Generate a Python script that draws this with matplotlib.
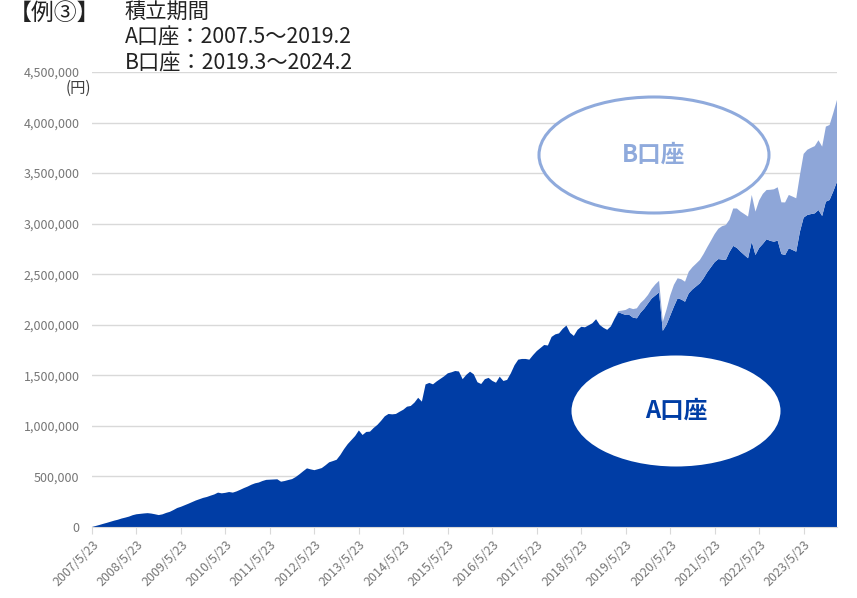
import matplotlib.pyplot as plt
import pandas as pd
from matplotlib.patches import Ellipse

plt.rcParams['font.family'] = ['Noto Sans CJK JP', 'DejaVu Sans']

### DATA (千円, 毎月23日) ###
start_date = "2007-05-23"

# A口座 評価額 2007/5 - 2024/2
a_values = [
    0, 10, 20, 31, 41, 52, 63, 72, 84, 93, 103, 117,
    126, 130, 134, 137, 133, 126, 118, 125, 139, 150, 168, 188,
    200, 215, 230, 246, 262, 275, 288, 297, 310, 322, 340, 333,
    338, 346, 340, 352, 368, 385, 400, 418, 432, 440, 455, 466,
    468, 470, 472, 448, 455, 465, 474, 495, 522, 552, 580, 570,
    562, 572, 583, 610, 640, 652, 665, 712, 770, 820, 860, 900,
    955, 910, 940, 943, 980, 1010, 1050, 1095, 1118, 1114, 1118, 1140,
    1160, 1190, 1197, 1230, 1278, 1240, 1410, 1425, 1411, 1440, 1465, 1490,
    1520, 1530, 1543, 1538, 1462, 1505, 1536, 1510, 1432, 1414, 1462, 1475,
    1445, 1427, 1487, 1444, 1455, 1520, 1600, 1655, 1662, 1662, 1655, 1700,
    1740, 1770, 1800, 1795, 1880, 1905, 1915, 1960, 1992, 1920, 1890, 1950,
    1980, 1975, 1995, 2015, 2055, 1998, 1970, 1950, 1985, 2060, 2125, 2110,
    2097, 2097, 2070, 2064, 2120, 2160, 2210, 2260, 2290, 2320, 1940, 2000,
    2090, 2180, 2262, 2250, 2228, 2311, 2350, 2380, 2410, 2460, 2520, 2570,
    2620, 2650, 2645, 2641, 2720, 2780, 2760, 2723, 2690, 2658, 2822, 2690,
    2760, 2800, 2846, 2830, 2822, 2832, 2700, 2690, 2757, 2740, 2723, 2921,
    3060, 3086, 3095, 3102, 3135, 3076, 3218, 3234, 3320, 3415,
]

# B口座 評価額 2019/3 - 2024/2
b_values = [
    10, 30, 50, 70, 85, 99, 95, 90, 85, 95, 110, 115,
    90, 150, 200, 215, 198, 200, 198, 214, 220, 225, 231, 240,
    248, 262, 278, 300, 330, 346, 320, 370, 390, 396, 405, 412,
    462, 429, 470, 495, 487, 505, 518, 528, 511, 520, 527, 528,
    528, 560, 630, 645, 655, 665, 690, 686, 742, 742, 775, 809,
]

title_left = "【例③】"
title_right = "積立期間\nA口座：2007.5〜2019.2\nB口座：2019.3〜2024.2"

dark_blue = "#003DA5"
light_blue = "#8EA6D8"
grid_gray = "#D9D9D9"
text_gray = "#767676"

# 日付と積み上げ用の配列
dates = pd.date_range(start_date, periods=len(a_values), freq=pd.DateOffset(months=1))
x = list(range(len(a_values)))
a_yen = [v * 1000 for v in a_values]
b_yen = [0] * (len(a_values) - len(b_values)) + [v * 1000 for v in b_values]

### PLOT ###
fig = plt.figure(figsize=(8.57, 5.98), dpi=100)
ax = fig.add_axes([92 / 857, 1 - 527 / 598, (837 - 92) / 857, (527 - 72) / 598])

ax.stackplot(x, a_yen, b_yen, colors=[dark_blue, light_blue], linewidth=0, zorder=2)

ax.set_xlim(0, len(a_values) - 1)
ax.set_ylim(0, 4500000)

# y軸
ax.set_yticks(range(0, 4500001, 500000))
ax.set_yticklabels([f"{v:,}" for v in range(0, 4500001, 500000)])
ax.yaxis.grid(True, color=grid_gray, linewidth=1, zorder=0)
ax.tick_params(axis="y", length=0, pad=9, labelsize=9, labelcolor=text_gray)

# x軸 (毎年5/23)
tick_idx = [i for i, d in enumerate(dates) if d.month == 5]
ax.set_xticks(tick_idx)
ax.set_xticklabels([f"{dates[i].year}/{dates[i].month}/{dates[i].day}" for i in tick_idx],
                   rotation=45, ha="right", rotation_mode="anchor")
ax.tick_params(axis="x", length=5, color=grid_gray, labelsize=9, labelcolor=text_gray, pad=3)

for side in ["left", "right", "top"]:
    ax.spines[side].set_visible(False)
ax.spines["bottom"].set_color(grid_gray)
ax.set_axisbelow(True)

# 単位
fig.text(78 / 857, 1 - 88 / 598, "(円)", ha="center", va="center", fontsize=11, color="#404040")

# タイトル
fig.text(9 / 857, 1 - 2 / 598, title_left, ha="left", va="top", fontsize=16.5, color="#222222")
fig.text(125 / 857, 1 - 1 / 598, title_right, ha="left", va="top", fontsize=15.3,
         color="#222222", linespacing=1.22)

# 楕円のラベル
b_ell = Ellipse((654 / 857, 1 - 155 / 598), 230 / 857, 116 / 598, transform=fig.transFigure,
                facecolor="white", edgecolor="#8FAADC", linewidth=2.2, zorder=5)
a_ell = Ellipse((676 / 857, 1 - 411 / 598), 209 / 857, 111 / 598, transform=fig.transFigure,
                facecolor="white", edgecolor="none", zorder=5)
fig.patches.extend([b_ell, a_ell])
fig.text(654 / 857, 1 - 155 / 598, "B口座", ha="center", va="center", fontsize=17,
         fontweight="bold", color="#8FAADC", zorder=6)
fig.text(676 / 857, 1 - 411 / 598, "A口座", ha="center", va="center", fontsize=17,
         fontweight="bold", color=dark_blue, zorder=6)

plt.savefig("out.png", dpi=100)
